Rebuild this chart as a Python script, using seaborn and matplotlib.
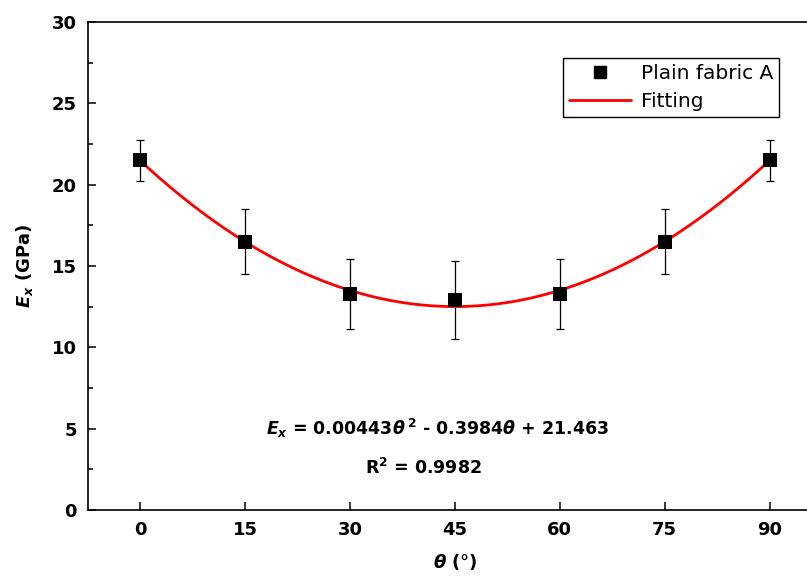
import numpy as np
import pandas as pd
import matplotlib
matplotlib.use("Agg")
import matplotlib.pyplot as plt
import seaborn as sns
from matplotlib.ticker import MultipleLocator
from matplotlib.lines import Line2D

# data
theta = [0, 15, 30, 45, 60, 75, 90]
ex_values = [21.5, 16.5, 13.3, 12.9, 13.3, 16.5, 21.5]
ex_err = [1.25, 2.0, 2.15, 2.4, 2.15, 2.0, 1.25]
fit_coeffs = [0.00443, -0.3984, 21.463]
x_ticks = [0, 15, 30, 45, 60, 75, 90]
y_ticks = [0, 5, 10, 15, 20, 25, 30]

sns.set_theme(style="ticks")
plt.rcParams['font.family'] = ['DejaVu Sans']
plt.rcParams['text.color'] = 'black'
plt.rcParams['axes.labelcolor'] = 'black'
plt.rcParams['xtick.color'] = 'black'
plt.rcParams['ytick.color'] = 'black'
plt.rcParams['mathtext.fontset'] = 'custom'
plt.rcParams['mathtext.rm'] = 'DejaVu Sans:bold'
plt.rcParams['mathtext.it'] = 'DejaVu Sans:bold:italic'
plt.rcParams['mathtext.bf'] = 'DejaVu Sans:bold'

fig = plt.figure(figsize=(8.07, 5.79), dpi=100)
ax = fig.add_axes([88/807, 69/579, 734/807, 488/579])

df = pd.DataFrame({"theta": theta, "Ex": ex_values, "err": ex_err})
xs = np.linspace(0, 90, 300)
fit_df = pd.DataFrame({"theta": xs, "Ex": np.polyval(fit_coeffs, xs)})

ax.errorbar(df["theta"], df["Ex"], yerr=df["err"], fmt="none", ecolor="black",
            elinewidth=0.9, capsize=3, capthick=0.9, zorder=2)
sns.lineplot(data=fit_df, x="theta", y="Ex", ax=ax, color="red", linewidth=2, zorder=3)
sns.scatterplot(data=df, x="theta", y="Ex", ax=ax, marker="s", s=100, color="black",
                edgecolor="black", linewidth=0, zorder=4)

ax.set_xlim(-7.5, 97.5)
ax.set_ylim(0, 30)
ax.set_xticks(x_ticks)
ax.set_yticks(y_ticks)
ax.yaxis.set_minor_locator(MultipleLocator(2.5))
ax.tick_params(axis="both", which="major", direction="in", length=6, width=1.1,
               labelsize=13, pad=8)
ax.tick_params(axis="y", which="minor", direction="in", length=3.5, width=1.1)
ax.tick_params(axis="x", which="minor", length=0)
for lbl in ax.get_xticklabels() + ax.get_yticklabels():
    lbl.set_fontweight("bold")
for s in ax.spines.values():
    s.set_linewidth(1.2)
    s.set_color("black")

ax.set_xlabel(r"$\mathit{\theta}$ (°)", fontsize=13, fontweight="bold", labelpad=9)
ax.set_ylabel(r"$\mathit{E}_{\mathit{x}}$ (GPa)", fontsize=13, fontweight="bold", labelpad=12)

ax.text(42.5, 5.0, r"$\mathit{E}_{\mathit{x}}$ = 0.00443$\mathit{\theta}^{\,2}$ - 0.3984$\mathit{\theta}$ + 21.463",
        ha="center", va="center", fontsize=12.5, fontweight="bold")
ax.text(40.5, 2.6, r"R$^{2}$ = 0.9982", ha="center", va="center",
        fontsize=12.5, fontweight="bold")

handles = [Line2D([], [], marker="s", color="black", linestyle="none", markersize=9),
           Line2D([], [], color="red", linewidth=2)]
leg = ax.legend(handles, ["Plain fabric A", "Fitting"], loc="upper left",
                bbox_to_anchor=((563 - 88) / 734, (510 - 58) / 488),
                fontsize=14.5, frameon=True, fancybox=False, edgecolor="black",
                framealpha=1, borderpad=0.3, labelspacing=0.45, handlelength=3.1,
                handletextpad=0.45, borderaxespad=0)
leg.get_frame().set_linewidth(1.0)

fig.savefig("out.png", dpi=100)
